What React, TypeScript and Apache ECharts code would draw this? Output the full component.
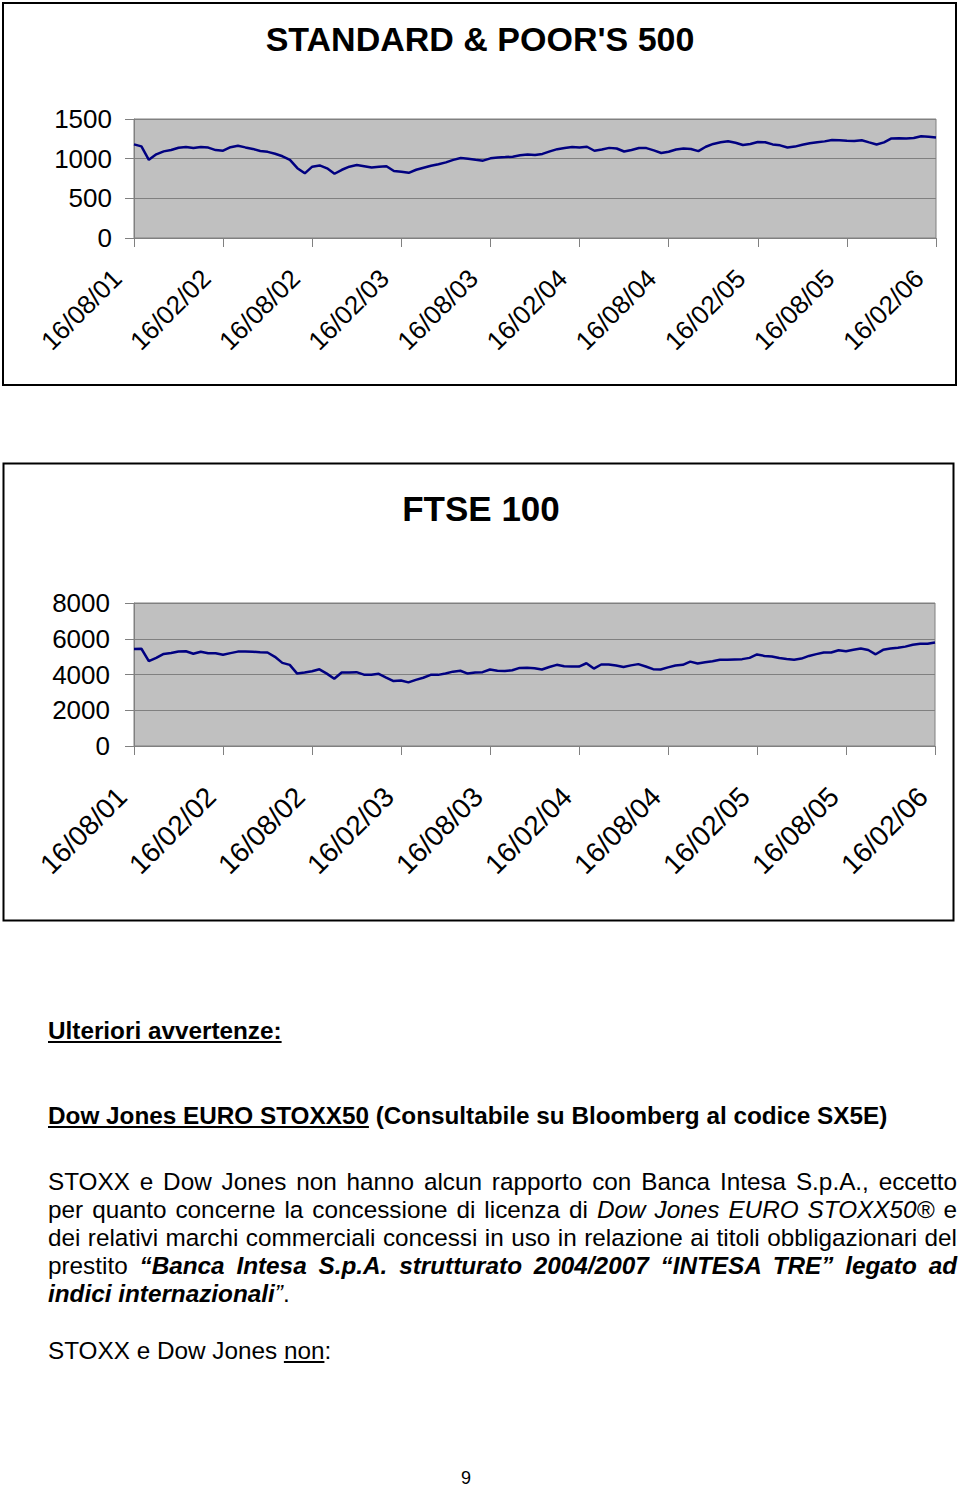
import React, { useEffect, useRef } from "react";
import * as echarts from "echarts";

// Half-year tick labels on the x axis (dd/mm/yy)
const TICK_LABELS = [
  "16/08/01", "16/02/02", "16/08/02", "16/02/03", "16/08/03",
  "16/02/04", "16/08/04", "16/02/05", "16/08/05", "16/02/06",
];

// Semi-monthly observation dates between the ticks (16th and 1st of each month)
function buildCategories(): string[] {
  const out: string[] = [];
  const pad = (n: number) => (n < 10 ? "0" + n : "" + n);
  let y = 2001;
  let m = 8;
  const total = (TICK_LABELS.length - 1) * 12 + 1;
  for (let i = 0; i < total; i++) {
    if (i % 2 === 0) {
      out.push(`16/${pad(m)}/${pad(y % 100)}`);
    } else {
      m++;
      if (m > 12) { m = 1; y++; }
      out.push(`01/${pad(m)}/${pad(y % 100)}`);
    }
  }
  return out;
}
const CATEGORIES = buildCategories();

// S&P 500 values
const SP500 = [
  1180, 1155, 985, 1055, 1092, 1110, 1138, 1148, 1134, 1148, 1140, 1108,
  1100, 1145, 1162, 1142, 1123, 1096, 1086, 1062, 1030, 985, 880, 815,
  899, 915, 878, 810, 860, 899, 920, 905, 888, 899, 905, 844,
  836, 822, 860, 886, 911, 930, 953, 985, 1008, 998, 985, 975,
  1004, 1016, 1020, 1025, 1042, 1052, 1045, 1060, 1092, 1120, 1134, 1146,
  1140, 1150, 1100, 1115, 1136, 1128, 1090, 1110, 1134, 1133, 1105, 1072,
  1088, 1116, 1128, 1122, 1095, 1150, 1186, 1206, 1220, 1200, 1172, 1185,
  1210, 1207, 1180, 1168, 1140, 1152, 1176, 1195, 1208, 1218, 1235, 1233,
  1226, 1224, 1233, 1205, 1178, 1205, 1255, 1256, 1254, 1260, 1283, 1277,
  1268,
];

// FTSE 100 values
const FTSE100 = [
  5420, 5440, 4750, 4930, 5150, 5200, 5290, 5300, 5160, 5270, 5190, 5190,
  5100, 5196, 5280, 5280, 5275, 5240, 5230, 4990, 4650, 4540, 4050, 4110,
  4180, 4290, 4050, 3760, 4110, 4115, 4130, 3990, 3980, 4036, 3830, 3630,
  3660, 3560, 3700, 3820, 3980, 3980, 4060, 4160, 4210, 4050, 4110, 4130,
  4280, 4210, 4200, 4240, 4370, 4380, 4355, 4280, 4420, 4540, 4460, 4446,
  4446, 4630, 4330, 4560, 4560, 4500, 4420, 4510, 4580, 4450, 4300, 4280,
  4400, 4505, 4540, 4720, 4620, 4680, 4740, 4820, 4820, 4845, 4860, 4930,
  5120, 5040, 5010, 4925, 4870, 4825, 4890, 5040, 5140, 5232, 5232, 5360,
  5300, 5380, 5450, 5370, 5130, 5380, 5450, 5500, 5560, 5660, 5718, 5720,
  5790,
];

const SP_AXIS = { min: 0, max: 1500, interval: 500 };
const FTSE_AXIS = { min: 0, max: 8000, interval: 2000 };

const TITLE_SP = "STANDARD & POOR'S 500";
const TITLE_FTSE = "FTSE 100";

const FONT = "'Liberation Sans', Arial, Helvetica, sans-serif";

function xAxisFor(gridIndex: number, size: number, margin: number, padRight: number) {
  return {
    gridIndex,
    type: "category",
    data: CATEGORIES,
    boundaryGap: false,
    axisLine: { show: true, lineStyle: { color: "#808080", width: 1 } },
    axisTick: { show: true, interval: 11, length: 9, lineStyle: { color: "#808080" } },
    axisLabel: {
      interval: 11,
      rotate: 45,
      fontSize: size,
      fontFamily: FONT,
      color: "#000",
      margin,
      padding: [0, padRight, 0, 0],
    },
    splitLine: { show: false },
  };
}

function yAxisFor(gridIndex: number, ax: { min: number; max: number; interval: number }, size: number, margin: number) {
  return {
    gridIndex,
    type: "value",
    min: ax.min,
    max: ax.max,
    interval: ax.interval,
    axisLine: { show: true, lineStyle: { color: "#808080", width: 1 } },
    axisTick: { show: true, length: 9, lineStyle: { color: "#808080" } },
    axisLabel: {
      fontSize: size,
      fontFamily: FONT,
      color: "#000",
      margin,
      formatter: (v: number) => String(v),
    },
    splitLine: { show: true, lineStyle: { color: "#808080", width: 1 } },
  };
}

function ChartBlock() {
  const ref = useRef<HTMLDivElement>(null);
  useEffect(() => {
    if (!ref.current) return;
    const chart = echarts.init(ref.current, undefined, { renderer: "svg" });
    chart.setOption({
      animation: false,
      textStyle: { fontFamily: FONT },
      graphic: [
        {
          type: "rect",
          shape: { x: 3, y: 3, width: 953, height: 382 },
          style: { fill: "none", stroke: "#000", lineWidth: 2 },
        },
        {
          type: "rect",
          shape: { x: 3.5, y: 463.5, width: 950, height: 457 },
          style: { fill: "none", stroke: "#000", lineWidth: 2 },
        },
        {
          type: "text",
          x: 480,
          y: 39,
          style: {
            text: TITLE_SP,
            fill: "#000",
            fontSize: 34,
            fontWeight: "bold",
            fontFamily: FONT,
            align: "center",
            verticalAlign: "middle",
          },
        },
        {
          type: "text",
          x: 481,
          y: 508,
          style: {
            text: TITLE_FTSE,
            fill: "#000",
            fontSize: 35,
            fontWeight: "bold",
            fontFamily: FONT,
            align: "center",
            verticalAlign: "middle",
          },
        },
      ],
      grid: [
        {
          left: 134, top: 119, width: 802, height: 119,
          show: true, backgroundColor: "#C0C0C0", borderColor: "#808080", borderWidth: 1,
        },
        {
          left: 134, top: 603, width: 801, height: 143,
          show: true, backgroundColor: "#C0C0C0", borderColor: "#808080", borderWidth: 1,
        },
      ],
      xAxis: [
        xAxisFor(0, 26, 19, 24),
        xAxisFor(1, 28, 34, 17),
      ],
      yAxis: [
        yAxisFor(0, SP_AXIS, 26, 22),
        yAxisFor(1, FTSE_AXIS, 26, 24),
      ],
      series: [
        {
          name: TITLE_SP,
          type: "line",
          xAxisIndex: 0,
          yAxisIndex: 0,
          data: SP500,
          showSymbol: false,
          lineStyle: { color: "#000080", width: 2.5 },
          itemStyle: { color: "#000080" },
        },
        {
          name: TITLE_FTSE,
          type: "line",
          xAxisIndex: 1,
          yAxisIndex: 1,
          data: FTSE100,
          showSymbol: false,
          lineStyle: { color: "#000080", width: 2.5 },
          itemStyle: { color: "#000080" },
        },
      ],
    });
    return () => chart.dispose();
  }, []);
  return <div ref={ref} style={{ position: "absolute", left: 0, top: 0, width: 960, height: 930 }} />;
}

const lineBase: React.CSSProperties = {
  position: "absolute",
  left: 48,
  width: 909,
  fontSize: 24.3,
  lineHeight: "28px",
  whiteSpace: "nowrap",
};
const justified: React.CSSProperties = {
  ...lineBase,
  textAlign: "justify",
  textAlignLast: "justify" as any,
  whiteSpace: "normal",
};

export default function App() {
  return (
    <div
      style={{
        position: "absolute",
        left: 0,
        top: 0,
        width: 960,
        height: 1489,
        background: "#fff",
        color: "#000",
        fontFamily: FONT,
      }}
    >
      <ChartBlock />
      <div style={{ ...lineBase, top: 1017, fontWeight: "bold", textDecoration: "underline" }}>
        Ulteriori avvertenze:
      </div>
      <div style={{ ...lineBase, top: 1102, fontWeight: "bold" }}>
        <span style={{ textDecoration: "underline" }}>Dow Jones EURO STOXX50</span> (Consultabile su Bloomberg al codice SX5E)
      </div>
      <div style={{ ...justified, top: 1168 }}>
        STOXX e Dow Jones non hanno alcun rapporto con Banca Intesa S.p.A., eccetto
      </div>
      <div style={{ ...justified, top: 1196 }}>
        per quanto concerne la concessione di licenza di <i>Dow Jones EURO STOXX50®</i> e
      </div>
      <div style={{ ...justified, top: 1224 }}>
        dei relativi marchi commerciali concessi in uso in relazione ai titoli obbligazionari del
      </div>
      <div style={{ ...justified, top: 1252 }}>
        prestito <b><i>“Banca Intesa S.p.A. strutturato 2004/2007 “INTESA TRE” legato ad</i></b>
      </div>
      <div style={{ ...lineBase, top: 1280 }}>
        <b><i>indici internazionali</i></b><i>”</i>.
      </div>
      <div style={{ ...lineBase, top: 1337 }}>
        STOXX e Dow Jones <span style={{ textDecoration: "underline" }}>non</span>:
      </div>
      <div
        style={{
          position: "absolute",
          left: 416,
          width: 100,
          top: 1469,
          fontSize: 18,
          lineHeight: "18px",
          textAlign: "center",
        }}
      >
        9
      </div>
    </div>
  );
}
